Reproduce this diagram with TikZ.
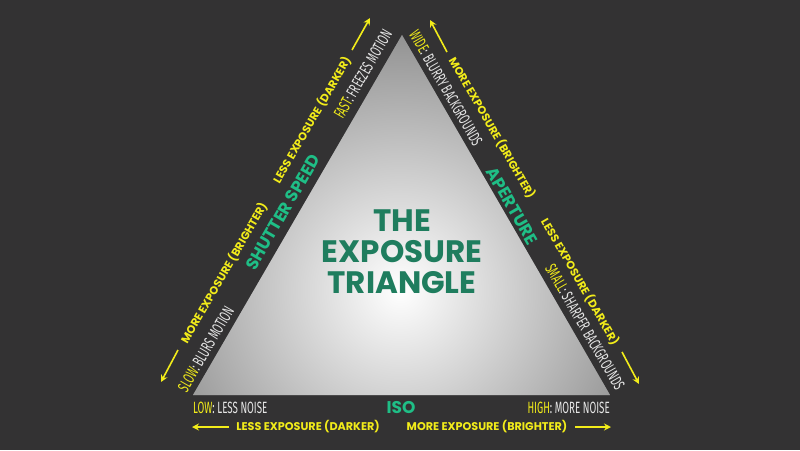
\documentclass[tikz,border=0pt]{standalone}
\usepackage{fontspec}
\setmainfont{Poppins}
\newfontfamily\cond[FakeStretch=0.6]{Fira Sans}
\usetikzlibrary{arrows.meta}
\definecolor{bg}{HTML}{333233}
\definecolor{yel}{HTML}{F2EC1A}
\definecolor{grn}{HTML}{1FBE86}
\definecolor{dgrn}{HTML}{1F7D5E}
\definecolor{wht}{HTML}{E6E6E6}
\tikzset{
 yt/.style={text=yel,font=\bfseries\fontsize{11.2}{12}\selectfont,inner sep=0pt},
 wt/.style={text=wht,font=\cond\fontsize{16.3}{17}\selectfont,inner sep=0pt},
 gt/.style={text=grn,font=\bfseries\fontsize{17}{18}\selectfont,inner sep=0pt},
 yarr/.style={draw=yel,line width=1.6pt,-{Stealth[length=7pt,width=7pt]}}
}
\newcommand{\Y}[1]{\textcolor{yel}{#1}}
\begin{document}
\begin{tikzpicture}[x=1pt,y=-1pt]
\fill[bg] (0,0) rectangle (800,450);
\useasboundingbox (0,0) rectangle (800,450);
\coordinate (A) at (402,35);
\coordinate (L) at (193,395);
\coordinate (R) at (610,395);
\begin{scope}
\clip (A) -- (L) -- (R) -- cycle;
\fill[gray!50!black!80] (0,0) rectangle (800,450);
\shade[inner color=white,outer color=black!55] (400,290) circle (330);
\end{scope}
% title
\node[text=dgrn,font=\bfseries\fontsize{31}{31}\selectfont,align=center,inner sep=0pt] (title) at (402,252) {THE\\EXPOSURE\\TRIANGLE};
% left side
\node[gt,rotate=60] (ss) at (283,212) {SHUTTER SPEED};
\node[wt,rotate=60] (slow) at (206,349) {\Y{SLOW}: BLURS MOTION};
\node[wt,rotate=60] (fast) at (363,74) {\Y{FAST}: FREEZES MOTION};
\node[yt,rotate=60] (lme) at (224,273) {MORE EXPOSURE (BRIGHTER)};
\node[yt,rotate=60] (lle) at (312,120) {LESS EXPOSURE (DARKER)};
\coordinate (la1) at (178,350); \coordinate (la2) at (161,382);
\coordinate (lb1) at (352,50); \coordinate (lb2) at (370,18);
\draw[yarr] (la1) -- (la2);
\draw[yarr] (lb1) -- (lb2);
% right side
\node[gt,rotate=-60] (ap) at (512,206) {APERTURE};
\node[wt,rotate=-60] (wide) at (446,88) {\Y{WIDE}: BLURRY BACKGROUNDS};
\node[wt,rotate=-60] (small) at (585,327) {\Y{SMALL}: SHARPER BACKGROUNDS};
\node[yt,rotate=-60] (rme) at (492,128) {MORE EXPOSURE (BRIGHTER)};
\node[yt,rotate=-60] (rle) at (580,282) {LESS EXPOSURE (DARKER)};
\coordinate (ra1) at (447,52); \coordinate (ra2) at (430,20);
\coordinate (rb1) at (622,352); \coordinate (rb2) at (639,384);
\draw[yarr] (ra1) -- (ra2);
\draw[yarr] (rb1) -- (rb2);
% bottom
\node[gt] (iso) at (401,408) {ISO};
\node[wt,anchor=west] (low) at (193,408) {\Y{LOW}: LESS NOISE};
\node[wt,anchor=east] (high) at (610,408) {\Y{HIGH}: MORE NOISE};
\node[yt] (ble) at (308,427) {LESS EXPOSURE (DARKER)};
\node[yt] (bme) at (487,427) {MORE EXPOSURE (BRIGHTER)};
\coordinate (ba1) at (229,427); \coordinate (ba2) at (192,427);
\coordinate (bb1) at (575,427); \coordinate (bb2) at (611,427);
\draw[yarr] (ba1) -- (ba2);
\draw[yarr] (bb1) -- (bb2);
\end{tikzpicture}
\end{document}
